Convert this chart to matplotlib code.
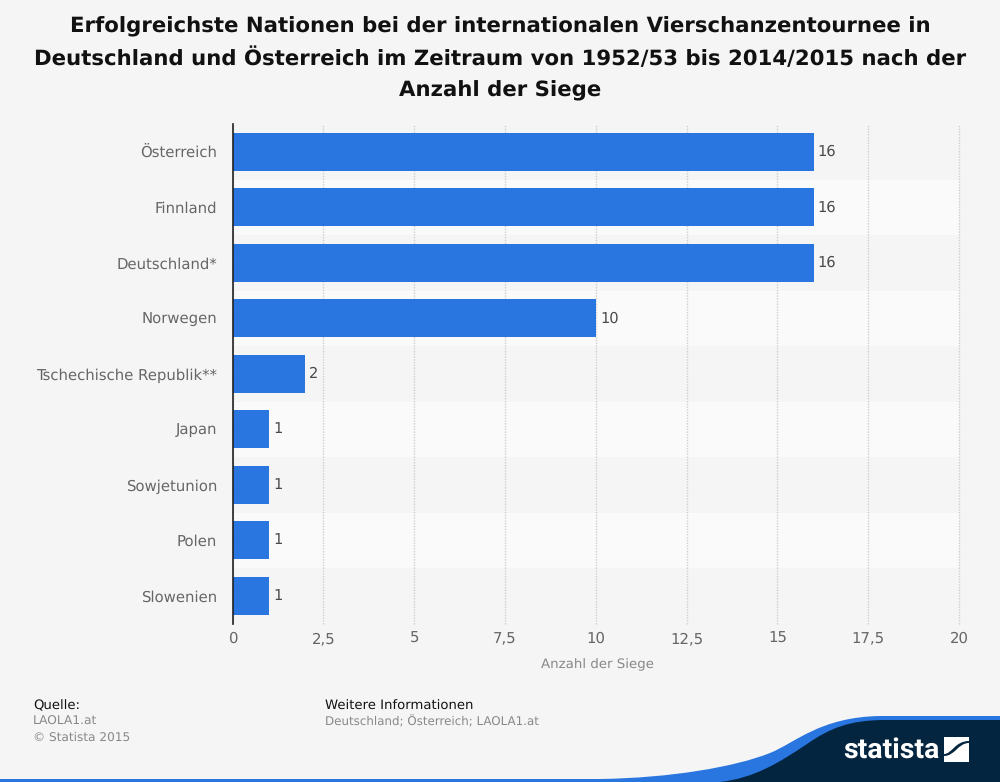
import matplotlib
matplotlib.use('Agg')
import matplotlib.pyplot as plt
from matplotlib.patches import PathPatch, Rectangle
from matplotlib.path import Path

plt.rcParams['text.hinting'] = 'no_hinting'

countries = ['Österreich', 'Finnland', 'Deutschland*', 'Norwegen', 'Tschechische Republik**',
             'Japan', 'Sowjetunion', 'Polen', 'Slowenien']
wins = [16, 16, 16, 10, 2, 1, 1, 1, 1]
ticks = [0, 2.5, 5, 7.5, 10, 12.5, 15, 17.5, 20]
tick_labels = ['0', '2,5', '5', '7,5', '10', '12,5', '15', '17,5', '20']

title = ('Erfolgreichste Nationen bei der internationalen Vierschanzentournee in\n'
         'Deutschland und Österreich im Zeitraum von 1952/53 bis 2014/2015 nach der\n'
         'Anzahl der Siege')

W, H = 1000, 782
bg = '#f5f5f5'
blue = '#2976e0'
navy = '#03253f'

fig = plt.figure(figsize=(W / 100, H / 100), dpi=100, facecolor=bg)
ax = fig.add_axes([232.5 / W, 1 - 623.5 / H, 726.5 / W, 499.5 / H], facecolor=bg)

# alternating bands behind the bars
for i in range(len(countries)):
    ax.axhspan(i - 0.5, i + 0.5, color='#f5f5f5' if i % 2 == 0 else '#fafafa', lw=0, zorder=0)

ax.barh(range(len(countries)), wins, height=0.685, color=blue, zorder=3)
for i, v in enumerate(wins):
    ax.annotate(str(v), (v, i), xytext=(3, 0), textcoords='offset points', va='center',
                fontsize=10.5, color='#4a4a4a', zorder=4)

ax.set_xlim(0, 20)
ax.set_ylim(len(countries) - 0.5, -0.5)
ax.set_xticks(ticks, tick_labels, fontsize=10.7, color='#666666')
ax.set_yticks(range(len(countries)), countries, fontsize=10.7, color='#666666')
ax.tick_params(axis='both', length=0)
ax.tick_params(axis='x', pad=6)
ax.tick_params(axis='y', pad=11)
ax.grid(axis='x', color='#cfcfcf', linestyle=(0, (1, 1)), linewidth=1, zorder=1, clip_on=False)
ax.set_axisbelow(True)
for s in ['top', 'right', 'bottom']:
    ax.spines[s].set_visible(False)
ax.spines['left'].set_color('#222222')
ax.spines['left'].set_linewidth(1.2)
ax.spines['left'].set_zorder(5)
ax.set_xlabel('Anzahl der Siege', fontsize=9.6, color='#888888', labelpad=8.5, x=0.502)

fig.text(0.5, 1 - 58.5 / H, title, ha='center', va='center', fontsize=15.3, fontweight='bold',
         color='#111111', linespacing=1.65)

# footer
fig.text(33 / W, 1 - 706 / H, 'Quelle:', fontsize=9.55, color='#111111', va='center')
fig.text(33 / W, 1 - 722 / H, 'LAOLA1.at', fontsize=8.8, color='#888888', va='center')
fig.text(33 / W, 1 - 738 / H, '© Statista 2015', fontsize=8.7, color='#888888', va='center')
fig.text(325 / W, 1 - 706 / H, 'Weitere Informationen', fontsize=9.55, color='#111111', va='center')
fig.text(325 / W, 1 - 722 / H, 'Deutschland; Österreich; LAOLA1.at', fontsize=8.6, color='#888888', va='center')

# logo swoosh, in pixel coordinates
deco = fig.add_axes([0, 0, 1, 1], facecolor='none')
deco.set_xlim(0, W)
deco.set_ylim(H, 0)
deco.axis('off')

M, L, C = Path.MOVETO, Path.LINETO, Path.CURVE4
blue_pts = [(0, 782), (0, 779), (600, 779), (670, 778), (735, 767), (770, 753), (795, 743), (820, 717), (880, 716),
            (1000, 716), (1000, 782), (0, 782)]
blue_codes = [M, L, L, C, C, C, C, C, C, L, L, L]
deco.add_patch(PathPatch(Path(blue_pts, blue_codes), fc=blue, ec='none'))
navy_pts = [(720, 782), (755, 778), (780, 762), (807, 744), (830, 728), (850, 720), (885, 720),
            (1000, 720), (1000, 782), (720, 782)]
navy_codes = [M, C, C, C, C, C, C, L, L, L]
deco.add_patch(PathPatch(Path(navy_pts, navy_codes), fc=navy, ec='none'))

deco.text(843, 750, 'statista', color='white', fontsize=20.5, fontweight='bold', family='Roboto',
          va='center', ha='left')
deco.add_patch(Rectangle((944, 737), 25, 25, fc='white', ec='none'))
s_pts = [(944, 754), (952, 754), (955, 741), (969, 741), (969, 743), (958, 743), (955, 756), (944, 756), (944, 754)]
s_codes = [M, C, C, C, L, C, C, C, L]
deco.add_patch(PathPatch(Path(s_pts, s_codes), fc=navy, ec='none'))

fig.savefig('out.png', dpi=100, facecolor=bg)
